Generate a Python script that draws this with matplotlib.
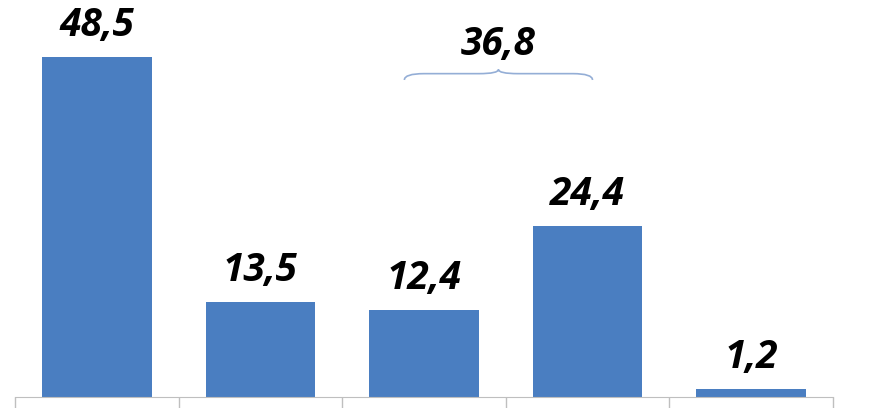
import matplotlib
matplotlib.use('Agg')
import matplotlib.pyplot as plt
from matplotlib.path import Path
from matplotlib.patches import PathPatch

categories = ['A', 'B', 'C', 'D', 'E']
values = [48.5, 13.5, 12.4, 24.4, 1.2]
labels = ['48,5', '13,5', '12,4', '24,4', '1,2']
group_label = '36,8'
group_span = (2, 3)  # bars covered by the brace

fig = plt.figure(figsize=(8.74, 4.08), dpi=100)
ax = fig.add_axes([15 / 874, 11 / 408, 818 / 874, 397 / 408])

x = range(len(categories))
bars = ax.bar(x, values, width=0.67, color='#4A7EC1')
ax.set_xlim(-0.5, len(categories) - 0.5)
ax.set_ylim(0, 56.6)

font = dict(family=['Open Sans', 'DejaVu Sans'], weight='bold', style='italic', size=28)
for bar, lab in zip(bars, labels):
    ax.annotate(lab, xy=(bar.get_x() + bar.get_width() / 2, bar.get_height()),
                xytext=(0, 15), textcoords='offset points',
                ha='center', va='baseline', color='black', **font)

# brace over the grouped bars
x0 = group_span[0] - 0.12
x1 = group_span[1] + 0.03
xm = (x0 + x1) / 2
yb, ym, yt = 45.2, 46.1, 46.7
q = 0.12
verts = [(x0, yb), (x0, ym), (x0 + q, ym),
         (xm - q, ym), (xm, ym), (xm, yt),
         (xm, ym), (xm + q, ym),
         (x1 - q, ym), (x1, ym), (x1, yb)]
codes = [Path.MOVETO, Path.CURVE3, Path.CURVE3,
         Path.LINETO, Path.CURVE3, Path.CURVE3,
         Path.CURVE3, Path.CURVE3,
         Path.LINETO, Path.CURVE3, Path.CURVE3]
ax.add_patch(PathPatch(Path(verts, codes), facecolor='none', edgecolor='#94AED6', lw=1.2))
ax.text(xm, 48.8, group_label, ha='center', va='baseline', color='black', **font)

# axis styling
for s in ['top', 'right', 'left']:
    ax.spines[s].set_visible(False)
ax.spines['bottom'].set_color('#BFBFBF')
ax.set_yticks([])
ax.set_xticks([i - 0.5 for i in range(len(categories) + 1)])
ax.set_xticklabels([])
ax.tick_params(axis='x', length=11, color='#BFBFBF', width=1)

fig.savefig('out.png', dpi=100)
